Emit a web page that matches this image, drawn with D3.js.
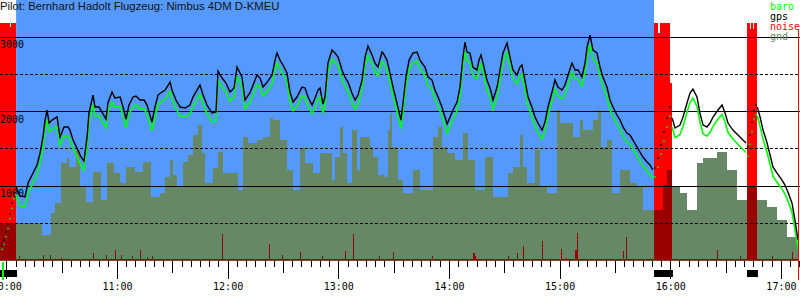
<!DOCTYPE html>
<html>
<head>
<meta charset="utf-8">
<script src="https://d3js.org/d3.v7.min.js"></script>
<style>
body{margin:0;background:#fff}
svg{display:block}
text{font-family:"DejaVu Sans Mono",monospace;font-size:10px}
</style>
</head>
<body>
<svg width="800" height="300"></svg>
<script>
var width=800, height=300

var title="Pilot: Bernhard Hadolt Flugzeug: Nimbus 4DM D-KMEU"

// fixes, minutes after 10:00
var fixMin=[
 -2.3,-1.3,-0.2,0.9,2.0,3.1,4.2,5.3,
 7.4,10.1,11.8,14.5,16.7,18.3,19.9,21.0,22.1,23.2,
 24.8,27.5,29.1,31.3,33.5,34.5,36.2,38.3,40.5,42.1,
 43.8,44.8,47.0,48.1,50.3,51.9,54.1,55.1,57.3,58.9,
 61.7,63.3,64.9,66.5,68.7,70.3,72.5,74.7,76.3,79.0,
 80.6,82.3,84.4,86.1,88.8,89.8,92.0,94.2,96.9,99.6,
 101.2,105.0,106.7,108.8,111.5,113.7,114.8,117.0,119.1,121.3,
 123.5,125.1,127.8,129.4,132.1,135.9,137.6,139.2,141.4,144.1,
 145.7,146.8,148.4,150.0,152.2,153.8,155.5,157.6,160.3,162.0,
 163.6,165.8,167.4,169.0,170.1,171.7,172.8,174.4,176.6,178.2,
 179.9,180.9,182.0,183.6,185.3,187.4,189.1,190.7,192.9,194.5,
 196.1,198.3,199.9,201.5,203.7,204.3,206.4,208.0,209.7,211.8,
 214.0,215.1,216.7,218.4,220.5,222.7,224.3,227.0,228.7,230.8,
 232.4,234.1,236.2,239.0,240.6,242.2,244.4,246.0,247.6,248.7,
 249.8,251.4,253.0,255.2,256.3,257.4,258.5,260.6,262.3,263.9,
 266.1,267.7,269.3,271.5,273.1,274.7,276.9,278.5,279.6,281.2,
 282.9,285.0,286.7,288.3,290.5,292.1,293.7,295.9,297.5,299.1,
 301.3,302.9,304.6,306.7,308.4,310.0,312.1,313.8,314.9,316.5,
 318.1,320.3,321.9,323.5,325.7,327.3,329.0,331.1,332.8,334.4,
 336.5,338.2,339.8,342.0,343.6,345.2,347.4,349.0,350.6,
 351.7,353.4,355.0,356.6,358.3,359.9,
 361.0,362.6,365.3,366.9,369.1,370.7,372.3,374.5,376.1,377.8,
 379.9,381.6,383.2,385.9,388.1,389.7,391.3,394.0,396.7,399.4,401.1,
 402.1,403.2,404.3,405.4,406.5,
 407.2,408.7,410.3,412.5,414.1,415.7,417.9,420.6,422.2,423.8,
 426.0,427.6,429.3]

var gpsAlt=[
 208,275,382,490,624,772,906,986,
 866,852,1040,1174,1282,1443,1657,1885,2020,1845,
 1885,1926,1657,1792,1792,1751,1617,1510,1389,1335,
 1657,1979,2221,2060,2060,1993,1899,2114,2261,2181,
 2194,2060,1899,2087,2194,2208,2154,2154,2087,1859,
 2060,2221,2261,2288,2395,2288,2154,2060,2047,2087,
 2194,2355,2221,2087,1979,1993,2543,2449,2382,2261,
 2315,2597,2463,2154,2248,2489,2449,2328,2395,2489,
 2690,2785,2690,2624,2516,2261,2127,2194,2328,2315,
 2194,2087,2181,2288,2315,2100,2194,2650,2825,2785,
 2731,2650,2557,2463,2395,2248,2154,2221,2422,2731,
 2879,2758,2650,2597,2798,2785,2690,2516,2328,2114,
 1885,2114,2463,2690,2785,2798,2690,2597,2463,2422,
 2288,2194,2060,1832,1926,2020,2127,2328,2731,2932,
 2798,2785,2597,2557,2690,2758,2650,2422,2315,2154,
 2328,2557,2785,2919,2731,2557,2489,2597,2624,2422,
 2194,2060,1926,1845,1751,1859,2060,2261,2422,2328,
 2288,2355,2489,2650,2557,2557,2463,2650,2865,3026,
 2825,2785,2597,2463,2328,2154,2060,1953,1885,1792,
 1711,1684,1617,1523,1456,1389,1322,1282,1215,
 1242,1376,1550,1724,1912,2060,
 1912,1778,1818,1926,2114,2248,2301,2194,1979,1818,
 1792,1845,1926,2020,2087,1979,1845,1751,1684,1617,1577,
 1523,1684,1859,2020,2087,
 2060,1926,1751,1577,1416,1255,1174,1080,1013,919,
 772,544,275]

var baroAlt=[
 150,215,320,430,560,700,830,880,
 735,720,900,1050,1160,1310,1520,1750,1880,1730,
 1760,1800,1540,1670,1660,1630,1500,1390,1270,1210,
 1520,1850,2090,1940,1950,1870,1780,1990,2130,2060,
 2070,1940,1780,1960,2070,2090,2030,2040,1960,1740,
 1930,2100,2140,2170,2270,2170,2040,1940,1930,1960,
 2070,2230,2100,1970,1860,1870,2420,2330,2260,2140,
 2190,2470,2340,2040,2120,2360,2330,2210,2270,2370,
 2560,2650,2570,2500,2390,2140,2010,2070,2210,2190,
 2070,1970,2060,2170,2190,1980,2070,2530,2700,2660,
 2610,2530,2440,2340,2270,2130,2030,2100,2300,2610,
 2750,2640,2530,2480,2670,2660,2570,2400,2210,2000,
 1770,1990,2340,2570,2660,2680,2570,2480,2340,2300,
 2170,2070,1940,1710,1800,1900,2010,2200,2600,2810,
 2680,2660,2480,2440,2570,2640,2530,2300,2190,2030,
 2200,2430,2660,2790,2610,2440,2370,2480,2500,2300,
 2070,1940,1800,1720,1630,1740,1940,2140,2300,2210,
 2170,2230,2370,2530,2440,2430,2340,2530,2740,2900,
 2700,2660,2480,2340,2200,2030,1940,1830,1760,1670,
 1590,1560,1490,1400,1330,1270,1200,1160,1100,
 1120,1250,1430,1600,1790,1940,
 1790,1650,1690,1800,1990,2120,2180,2070,1860,1700,
 1670,1720,1800,1900,1960,1860,1720,1630,1560,1490,1450,
 1400,1560,1730,1900,1960,
 1940,1800,1630,1450,1290,1130,1050,960,890,800,
 650,420,150]

// ground elevation, step samples
var gndMin=[
 -3.4,5.7,19.4,24.0,26.2,29.7,33.1,34.2,37.7,39.9,
 43.4,46.8,51.3,54.8,58.2,61.6,65.1,69.6,74.2,78.7,
 83.3,86.0,88.8,90.4,92.6,95.8,98.5,101.2,103.9,106.1,
 107.7,112.1,114.8,117.5,125.6,128.3,131.1,135.9,139.2,143.0,
 144.6,148.4,152.2,155.5,159.2,162.0,166.3,170.1,176.4,178.2,
 180.9,182.7,184.6,187.3,190.0,191.8,197.2,199.0,201.7,205.4,
 207.1,208.0,209.0,212.6,215.3,220.7,224.3,231.5,234.3,236.1,
 238.8,243.3,247.8,250.5,254.1,259.6,264.1,272.2,274.9,278.5,
 280.3,282.2,286.7,289.4,293.0,298.4,300.2,307.4,311.1,312.9,
 318.3,321.0,322.3,325.5,328.5,332.8,338.2,341.9,345.2,351.7,
 356.1,358.2,361.0,365.4,369.1,374.5,377.8,385.4,390.8,396.2,
 401.6,407.0,412.5,417.9,423.3,428.7,429.3]
var gndAlt=[
 503,503,342,637,772,1308,1376,1255,1483,986,
 785,1188,812,1308,1174,1040,1255,1188,1322,852,
 906,1121,1349,1147,986,1322,1416,1684,1818,1443,
 1040,1241,1456,1174,946,1657,1577,1617,1657,1912,
 1885,1617,1215,946,1510,1308,1174,1443,1080,1389,
 1792,1443,1040,1751,1215,1657,1523,1389,1147,1121,
 1751,1979,1523,1080,906,1215,946,1657,1792,1523,
 1443,1349,1711,1349,946,1389,852,1174,1255,1684,
 1255,1040,1483,986,906,2020,1845,1657,1885,1751,
 1885,2020,1523,1617,906,1215,1040,986,678,678,
 1013,1215,986,906,678,1308,1376,1456,1215,812,
 986,812,718,544,315,235,0]

// engine noise level (0-1000), step samples
var noiseMin=[-3.4,2.0,2.6,5.3,6.9,7.4,13.4,13.9,19.9,20.4,
 23.7,24.2,29.7,30.2,47.0,47.5,54.1,54.6,59.0,59.5,
 62.2,62.7,68.2,68.7,72.5,73.0,76.3,76.8,79.0,79.5,
 99.1,99.6,116.9,117.4,142.4,142.9,149.5,150.0,159.2,159.7,
 171.2,171.7,183.6,184.1,188.0,188.5,202.1,202.6,209.7,210.2,
 230.8,231.3,253.0,254.1,254.6,272.0,272.5,276.9,277.4,280.1,
 280.6,290.5,291.0,300.8,301.3,303.5,304.0,308.3,309.4,309.9,
 334.4,335.0,336.0,336.5,351.2,353.4,354.4,359.8,360.9,371.8,
 372.3,385.4,385.9,397.8,398.3,401.6,403.2,403.8,404.9,405.5,
 407.0,415.2,415.7,426.0,426.5,429.3]
var noiseVal=[1000,985,1000,6,17,6,8,6,25,6,
 25,6,10,6,30,6,25,6,46,6,
 25,6,17,6,46,6,15,6,20,6,
 8,6,110,6,68,6,25,6,34,6,
 17,6,38,6,110,6,17,6,34,6,
 17,6,30,20,6,17,6,30,6,59,
 6,84,6,50,6,12,6,45,114,6,
 42,6,97,6,1000,958,1000,747,6,8,
 6,46,6,20,6,1000,975,1000,975,1000,
 6,20,6,34,6,0]

var engineStart=[-3.4,351.2,401.6]
var engineEnd=[5.3,360.9,407.0]
var taskStart=5.3, taskEnd=351.2
var takeoffMin=-1.8, landingMin=429.3

var altMajor=[1000,2000,3000]
var altMinor=[500,1500,2500]
var legendNames=["baro","gps","noise","gnd"]
var colors={baro:"#00ff00",gps:"#000000",noise:"#ff0000",gnd:"#668866",
  noiseGnd:"#990000",task:"#5599ff"}

var svg=d3.select("svg")

var t0=new Date(2008,4,24,10,0,0)
function at(m){return new Date(+t0+m*60000)}

var x=d3.scaleTime().domain([at(-3.42),at(430.35)]).range([0,width])
var y=d3.scaleLinear().domain([0,3000]).range([260.5,37])
var yn=d3.scaleLinear().domain([0,1000]).range([260.5,23])
var base=y(0)

var fixes=fixMin.map(function(m,i){return {m:m,gps:gpsAlt[i],baro:baroAlt[i]}})
var gnd=gndMin.map(function(m,i){return {m:m,v:gndAlt[i]}})
var noise=noiseMin.map(function(m,i){return {m:m,v:noiseVal[i]}})

function inEngine(m,strict){
  for(var i=0;i<engineStart.length;i++){
    if(strict ? (m>engineStart[i] && m<engineEnd[i]) : (m>=engineStart[i] && m<=engineEnd[i])) return true
  }
  return false
}

// task background
svg.append("rect")
  .attr("x",x(at(taskStart))).attr("y",0)
  .attr("width",x(at(taskEnd))-x(at(taskStart)))
  .attr("height",base)
  .attr("fill",colors.task)

var noiseArea=d3.area()
  .x(function(d){return x(at(d.m))})
  .y0(base)
  .y1(function(d){return yn(d.v)})
  .curve(d3.curveStepAfter)

var gndArea=d3.area()
  .x(function(d){return x(at(d.m))})
  .y0(base)
  .y1(function(d){return y(d.v)})
  .curve(d3.curveStepAfter)

svg.append("clipPath").attr("id","gndClip")
  .append("path").attr("d",gndArea(gnd))

svg.append("path").attr("d",noiseArea(noise))
  .attr("fill",colors.noise).attr("shape-rendering","crispEdges")

svg.append("path").attr("d",gndArea(gnd))
  .attr("fill",colors.gnd).attr("shape-rendering","crispEdges")

svg.append("path").attr("d",noiseArea(noise))
  .attr("fill",colors.noiseGnd).attr("clip-path","url(#gndClip)")
  .attr("shape-rendering","crispEdges")

// grid
svg.selectAll(".major").data(altMajor).enter().append("line")
  .attr("x1",0).attr("x2",width)
  .attr("y1",function(d){return y(d)}).attr("y2",function(d){return y(d)})
  .attr("stroke","#000").attr("shape-rendering","crispEdges")

svg.selectAll(".minor").data(altMinor).enter().append("line")
  .attr("x1",0).attr("x2",width)
  .attr("y1",function(d){return y(d)}).attr("y2",function(d){return y(d)})
  .attr("stroke","#000").attr("stroke-dasharray","3,2")
  .attr("shape-rendering","crispEdges")

svg.selectAll(".altlabel").data(altMajor).enter().append("text")
  .attr("x",0).attr("y",function(d){return y(d)+11})
  .attr("fill","#000")
  .text(function(d){return d})

// traces
function trace(key){
  return d3.line()
    .defined(function(d){return !inEngine(d.m,true)})
    .x(function(d){return x(at(d.m))})
    .y(function(d){return y(d[key])})
}

svg.append("path").attr("d",trace("baro")(fixes))
  .attr("fill","none").attr("stroke",colors.baro).attr("stroke-width",1.6)
svg.append("path").attr("d",trace("gps")(fixes))
  .attr("fill","none").attr("stroke",colors.gps).attr("stroke-width",1.4)

var engFixes=fixes.filter(function(d){return inEngine(d.m,false)})
;["baro","gps"].forEach(function(key){
  svg.selectAll(".dot-"+key).data(engFixes).enter().append("rect")
    .attr("x",function(d){return x(at(d.m))-0.75})
    .attr("y",function(d){return y(d[key])-0.75})
    .attr("width",1.5).attr("height",1.5)
    .attr("fill",colors[key])
})

// time axis
var dom=x.domain()
var minor5=d3.timeMinute.every(5).range(dom[0],dom[1])
var half=d3.timeMinute.every(30).range(dom[0],dom[1]).filter(function(d){return d.getMinutes()==30})
var hours=d3.timeHour.every(1).range(dom[0],dom[1])

function timeAxis(vals,size,fmt){
  var g=svg.append("g").attr("transform","translate(0,"+base+")")
    .call(d3.axisBottom(x).tickValues(vals).tickSize(size).tickPadding(4).tickFormat(fmt))
  g.select(".domain").remove()
  g.selectAll("line").attr("shape-rendering","crispEdges")
  g.attr("font-family",null).attr("font-size",null)
  return g
}
timeAxis(minor5,6,"")
timeAxis(half,12,"")
timeAxis(hours,18,d3.timeFormat("%H:%M"))

// engine running marks
svg.selectAll(".eng").data(engineStart).enter().append("rect")
  .attr("x",function(d){return x(at(d))})
  .attr("y",270)
  .attr("width",function(d,i){return x(at(engineEnd[i]))-x(at(d))+1})
  .attr("height",7)
  .attr("fill","#000")

svg.append("rect")
  .attr("x",x(at(takeoffMin))-1).attr("y",262)
  .attr("width",2).attr("height",18)
  .attr("fill",colors.baro)

svg.append("line")
  .attr("x1",x(at(landingMin))).attr("x2",x(at(landingMin)))
  .attr("y1",30).attr("y2",280)
  .attr("stroke",colors.noise).attr("shape-rendering","crispEdges")

// legend
svg.selectAll(".legend").data(legendNames).enter().append("text")
  .attr("x",770).attr("y",function(d,i){return 10+i*10})
  .attr("fill",function(d){return colors[d]})
  .text(function(d){return d})

svg.append("text")
  .attr("x",0).attr("y",10)
  .style("font-family","'Liberation Sans',Arial,sans-serif")
  .style("font-size","11.3px")
  .attr("fill","#111")
  .text(title)
</script>
</body>
</html>
